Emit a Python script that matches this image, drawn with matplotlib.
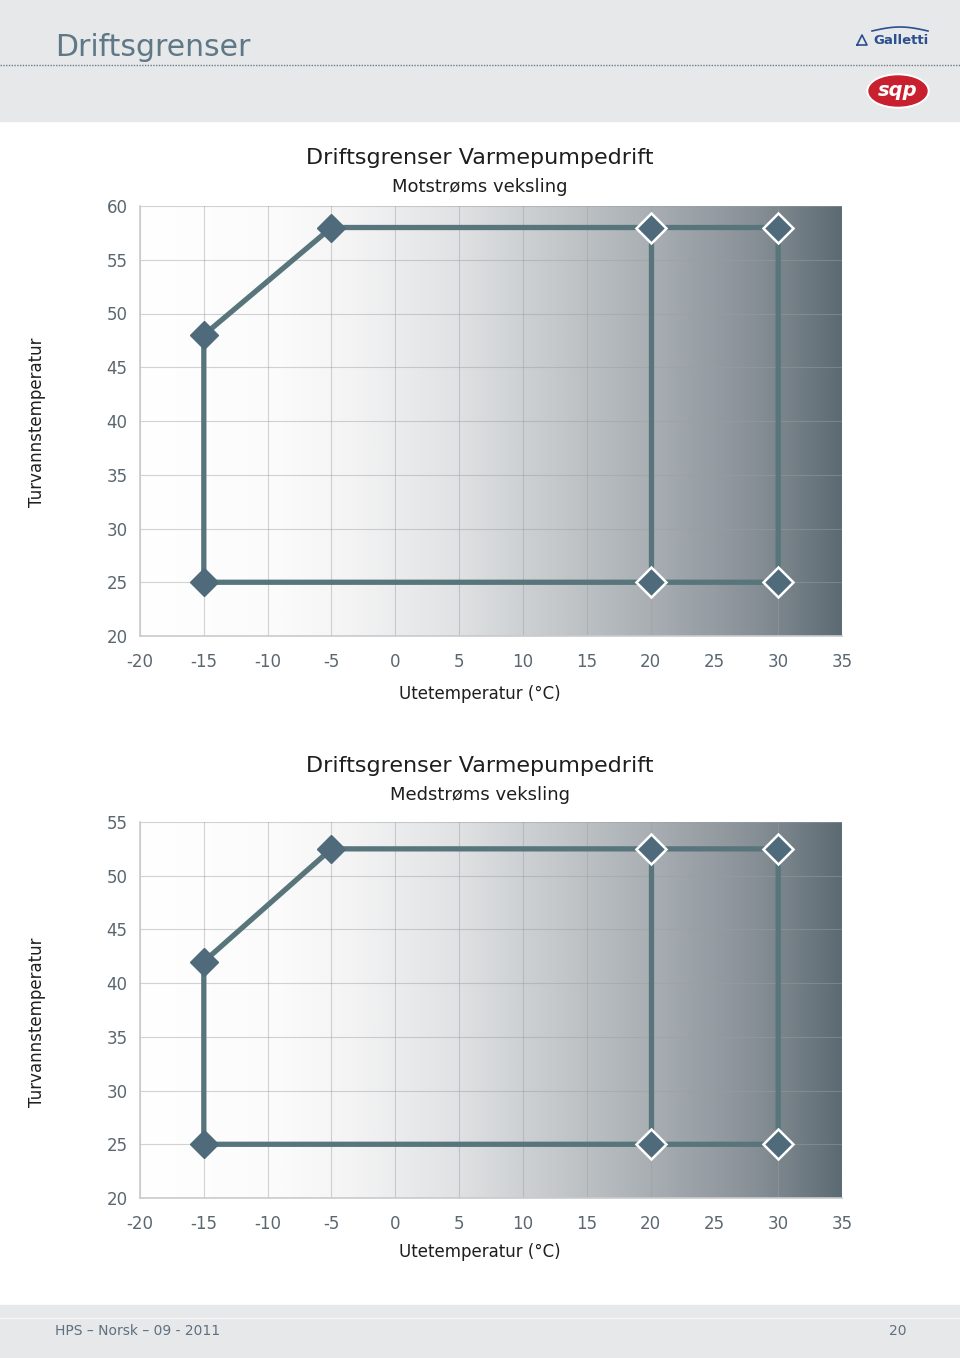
import numpy as np
import matplotlib
matplotlib.use("Agg")
import matplotlib.pyplot as plt
from matplotlib.colors import LinearSegmentedColormap
from matplotlib.patches import Rectangle, Ellipse

plt.rcParams['font.family'] = ['DejaVu Sans']

# ---- data ----
page_title = "Driftsgrenser"
chart_title = "Driftsgrenser Varmepumpedrift"
subtitles = ["Motstrøms veksling", "Medstrøms veksling"]
x_label = "Utetemperatur (°C)"
y_label = "Turvannstemperatur"
footer_left = "HPS – Norsk – 09 - 2011"
footer_right = "20"

x_ticks = list(range(-20, 40, 5))
y_ticks_1 = list(range(20, 65, 5))
y_ticks_2 = list(range(20, 60, 5))

# envelope outline (x, y) for each chart
env_x = [-15, -15, -5, 20, 30, 30, 20, -15]
env_y_1 = [25, 48, 58, 58, 58, 25, 25, 25]
env_y_2 = [25, 42, 52.5, 52.5, 52.5, 25, 25, 25]
# inner vertical limit line
inner_x = [20, 20]
inner_y_1 = [25, 58]
inner_y_2 = [25, 52.5]
# markers: filled (no edge) and white edged
fill_x = [-15, -5, -15]
fill_y_1 = [48, 58, 25]
fill_y_2 = [42, 52.5, 25]
edge_x = [20, 30, 20, 30]
edge_y_1 = [58, 58, 25, 25]
edge_y_2 = [52.5, 52.5, 25, 25]

W, H = 960, 1358
fig = plt.figure(figsize=(W / 100, H / 100), dpi=100)

# background bands
bg = fig.add_axes([0, 0, 1, 1])
bg.set_xlim(0, W)
bg.set_ylim(H, 0)
bg.axis('off')
bg.add_patch(Rectangle((0, 0), W, 121, color='#e6e8ea', zorder=0))
bg.add_patch(Rectangle((0, 1305), W, 53, color='#e6e8ea', zorder=0))
bg.plot([0, W], [1318, 1318], color='#f4f5f6', lw=1)
bg.plot([0, W], [65, 65], color='#6f7f88', lw=1, ls=(0, (1, 1)))
bg.text(55, 48, page_title, fontsize=21.5, color='#5f7886', va='center', ha='left')
bg.text(929, 40, "Galletti", fontsize=9.5, color='#2b4f8f', fontweight='bold',
        va='center', ha='right')
bg.plot([857, 862, 867, 857], [45, 35, 45, 45], color='#2b4f8f', lw=1.2)
bg.plot(np.linspace(872, 928, 20),
        31 - 4 * np.sin(np.linspace(0, np.pi, 20)), color='#2b4f8f', lw=1.2)
bg.add_patch(Ellipse((898, 91), 62, 34, color='white', zorder=2))
bg.add_patch(Ellipse((898, 91), 58, 30, color='#c8202f', zorder=2))
bg.text(898, 91, "sqp", fontsize=14, color='white', fontweight='bold',
        fontstyle='italic', va='center', ha='center', zorder=3)
bg.text(55, 1331, footer_left, fontsize=10, color='#5f7080', va='center', ha='left')
bg.text(906, 1331, footer_right, fontsize=10, color='#5f7080', va='center', ha='right')

cmap = LinearSegmentedColormap.from_list(
    'bggrad',
    [(0.0, '#ffffff'), (0.2, '#fbfbfb'), (0.3, '#f4f4f5'), (0.45, '#e0e2e3'),
     (0.6, '#c3c7ca'), (0.75, '#a4aaaf'), (0.88, '#878f96'), (1.0, '#5c6b73')])

line_c = '#58757b'
mark_c = '#4f6b7b'
tick_c = '#5a6770'


def make_chart(rect, yticks, env_y, inner_y, fill_y, edge_y, subtitle,
               title_y, sub_y, xlabel_y, ylabel_y):
    ax = fig.add_axes(rect)
    ax.set_xlim(x_ticks[0], x_ticks[-1])
    ax.set_ylim(yticks[0], yticks[-1])
    grad = np.linspace(0, 1, 512).reshape(1, -1)
    ax.imshow(grad, cmap=cmap, aspect='auto',
              extent=[x_ticks[0], x_ticks[-1], yticks[0], yticks[-1]],
              zorder=0, interpolation='bilinear')
    ax.set_xticks(x_ticks)
    ax.set_yticks(yticks)
    ax.grid(True, color='#9a9fa3', lw=0.8, alpha=0.45, zorder=1)
    ax.tick_params(axis='y', length=0, labelsize=12, labelcolor=tick_c, pad=9)
    ax.tick_params(axis='x', length=0, labelsize=12, labelcolor=tick_c, pad=12)
    for s in ['top', 'right']:
        ax.spines[s].set_visible(False)
    for s in ['left', 'bottom']:
        ax.spines[s].set_color('#c8cbcd')
        ax.spines[s].set_linewidth(1.2)
    ax.plot(env_x, env_y, color=line_c, lw=3.8, zorder=3, solid_joinstyle='miter')
    ax.plot(inner_x, inner_y, color=line_c, lw=3.8, zorder=3)
    ax.plot(fill_x, fill_y, ls='none', marker='D', ms=14, color=mark_c,
            mec=mark_c, zorder=4)
    ax.plot(edge_x, edge_y, ls='none', marker='D', ms=15, color=mark_c,
            mec='white', mew=1.8, zorder=4)
    ax.set_xticklabels([str(v) for v in x_ticks])
    # texts in page coordinates
    bg.text(480, title_y, chart_title, fontsize=16, color='#1e1e1e',
            ha='center', va='center')
    bg.text(480, sub_y, subtitle, fontsize=13, color='#1e1e1e',
            ha='center', va='center')
    bg.text(480, xlabel_y, x_label, fontsize=12, color='#1e1e1e',
            ha='center', va='center')
    bg.text(37, ylabel_y, y_label, fontsize=12, color='#1e1e1e',
            ha='center', va='center', rotation=90)
    return ax


make_chart([140 / W, 1 - 636 / H, 702 / W, 430 / H], y_ticks_1, env_y_1,
           inner_y_1, fill_y_1, edge_y_1, subtitles[0], 158, 187, 694, 422)
make_chart([140 / W, 1 - 1198 / H, 702 / W, 376 / H], y_ticks_2, env_y_2,
           inner_y_2, fill_y_2, edge_y_2, subtitles[1], 766, 795, 1252, 1022)

fig.savefig('out.png', dpi=100)
